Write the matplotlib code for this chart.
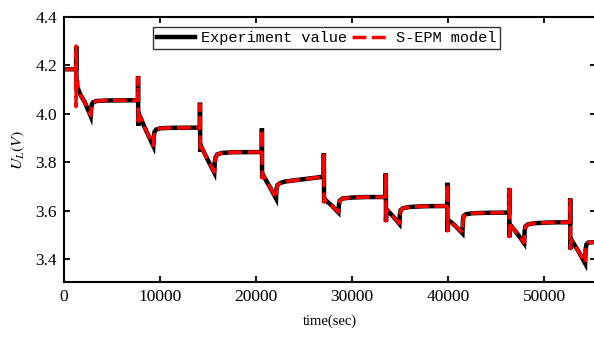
import matplotlib.pyplot as plt

# time axis shared by both curves (s)
time_s = [
    0, 1240, 1255, 1270, 1300, 1340, 1400, 1700, 2200, 2780, 2830, 2900, 3050, 3400, 4500,
    7700, 7710, 7730, 7760, 7850, 8500, 9300, 9350, 9420, 9600, 10000, 11000,
    14150, 14160, 14180, 14210, 14300, 14900, 15650, 15700, 15780, 15950, 16400, 17500,
    20600, 20610, 20630, 20660, 20750, 21400, 22080, 22130, 22220, 22450, 23000, 25000,
    27050, 27060, 27080, 27110, 27200, 27900, 28580, 28630, 28720, 29000, 30000, 31500,
    33500, 33510, 33530, 33560, 33650, 34300, 34930, 34980, 35060, 35300, 36000, 37500,
    39900, 39910, 39930, 39960, 40050, 40800, 41490, 41540, 41620, 41850, 42500, 44000,
    46350, 46360, 46380, 46410, 46500, 47200, 47920, 47970, 48050, 48300, 49000, 50500,
    52700, 52710, 52730, 52760, 52850, 53600, 54270, 54320, 54400, 54600, 55400,
]

exp_v = [
    4.184, 4.184, 4.184, 4.280, 4.120, 4.140, 4.110, 4.080, 4.045, 3.990, 4.020, 4.040, 4.048, 4.053, 4.055,
    4.056, 4.155, 3.950, 3.990, 3.995, 3.935, 3.867, 3.905, 3.925, 3.935, 3.940, 3.942,
    3.943, 4.046, 3.843, 3.860, 3.864, 3.815, 3.757, 3.800, 3.820, 3.832, 3.838, 3.841,
    3.842, 3.940, 3.733, 3.742, 3.745, 3.700, 3.650, 3.690, 3.705, 3.713, 3.720, 3.730,
    3.740, 3.837, 3.632, 3.640, 3.645, 3.620, 3.592, 3.625, 3.642, 3.650, 3.654, 3.656,
    3.656, 3.754, 3.554, 3.598, 3.602, 3.575, 3.545, 3.585, 3.602, 3.610, 3.615, 3.618,
    3.619, 3.715, 3.513, 3.556, 3.561, 3.535, 3.506, 3.560, 3.578, 3.585, 3.589, 3.591,
    3.592, 3.692, 3.490, 3.535, 3.540, 3.505, 3.465, 3.515, 3.535, 3.543, 3.548, 3.551,
    3.552, 3.650, 3.440, 3.472, 3.478, 3.430, 3.382, 3.440, 3.460, 3.468, 3.470,
]

model_v = [
    4.184, 4.184, 4.030, 4.280, 4.100, 4.135, 4.108, 4.078, 4.043, 3.992, 4.022, 4.041, 4.049, 4.053, 4.055,
    4.056, 4.150, 3.955, 3.985, 3.993, 3.934, 3.869, 3.903, 3.924, 3.935, 3.940, 3.942,
    3.943, 4.040, 3.845, 3.858, 3.862, 3.814, 3.759, 3.798, 3.819, 3.832, 3.838, 3.841,
    3.842, 3.935, 3.735, 3.740, 3.744, 3.700, 3.652, 3.688, 3.704, 3.713, 3.720, 3.730,
    3.740, 3.830, 3.635, 3.639, 3.644, 3.620, 3.594, 3.623, 3.641, 3.650, 3.654, 3.656,
    3.656, 3.748, 3.557, 3.596, 3.601, 3.575, 3.547, 3.583, 3.601, 3.610, 3.615, 3.618,
    3.619, 3.710, 3.516, 3.554, 3.560, 3.535, 3.508, 3.558, 3.577, 3.585, 3.589, 3.591,
    3.592, 3.688, 3.493, 3.533, 3.539, 3.505, 3.467, 3.513, 3.534, 3.543, 3.548, 3.551,
    3.552, 3.645, 3.443, 3.470, 3.477, 3.430, 3.384, 3.438, 3.459, 3.468, 3.470,
]

x_ticks = [0, 10000, 20000, 30000, 40000, 50000]
y_ticks = [3.4, 3.6, 3.8, 4.0, 4.2, 4.4]

plt.rcParams['font.family'] = ['Liberation Serif']
plt.rcParams['mathtext.fontset'] = 'stix'

fig = plt.figure(figsize=(5.94, 3.37), dpi=100)
ax = fig.add_axes([64/594, 1 - 282/337, 532/594, 265/337])

ax.plot(time_s, exp_v, color='black', lw=3.2, solid_joinstyle='miter', label='Experiment value')
ax.plot(time_s, model_v, color='red', lw=2.5, dashes=(4, 1.6), label='S-EPM model')

ax.set_xlim(0, 55400)
ax.set_ylim(3.305, 4.4)
ax.set_xticks(x_ticks)
ax.set_yticks(y_ticks)
ax.set_xticklabels([str(t) for t in x_ticks])
ax.set_yticklabels([f'{v:.1f}' for v in y_ticks])
ax.tick_params(direction='in', length=4, width=1.3, labelsize=12.5,
               top=True, right=True, pad=5)
for s in ax.spines.values():
    s.set_linewidth(1.5)

ax.set_xlabel('time(sec)', fontsize=10.5, labelpad=7)
ax.set_ylabel(r'$U_L(V)$', fontsize=11.5, labelpad=6)

leg = ax.legend(loc='upper center', bbox_to_anchor=(0.494, 0.962), ncol=2,
                prop={'family': 'Liberation Mono', 'size': 11},
                frameon=True, fancybox=False, edgecolor='black',
                handlelength=2.5, borderaxespad=0, columnspacing=0.3,
                handletextpad=0.4, borderpad=0.25)
leg.get_frame().set_linewidth(1.0)

fig.savefig('out.png', dpi=100)
